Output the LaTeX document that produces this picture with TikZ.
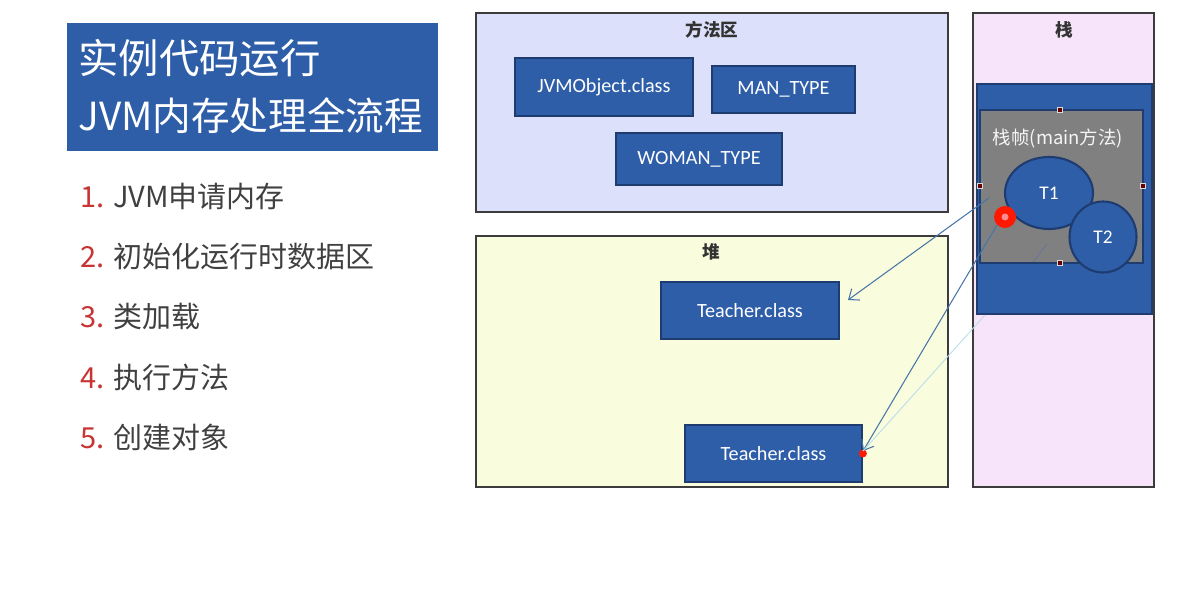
\documentclass[tikz,border=0pt]{standalone}
\usepackage{fontspec}
\setmainfont{Carlito}
\newfontfamily\cjk{Noto Sans CJK SC}
\usetikzlibrary{shapes.geometric,arrows.meta}

\definecolor{boxblue}{RGB}{47,94,168}
\definecolor{boxedge}{RGB}{30,60,112}
\definecolor{methodfill}{RGB}{221,224,250}
\definecolor{heapfill}{RGB}{250,252,222}
\definecolor{stackfill}{RGB}{248,228,250}
\definecolor{regionedge}{RGB}{60,60,60}
\definecolor{framegray}{RGB}{128,128,128}
\definecolor{numred}{RGB}{200,52,52}
\definecolor{listgray}{RGB}{64,64,64}
\definecolor{ptrblue}{RGB}{70,118,168}

\begin{document}
\begin{tikzpicture}[x=0.02cm,y=-0.02cm,
    every node/.append style={inner sep=0pt},
    region/.style={draw=regionedge,line width=0.8pt},
    regiontitle/.style={font=\cjk\bfseries\fontsize{10}{11}\selectfont,text=black!80},
    classbox/.style={draw=boxedge,line width=1pt,fill=boxblue,text=white,
        font=\fontsize{11.5}{13}\selectfont},
    objnode/.style={draw=boxedge,line width=1.2pt,fill=boxblue,ellipse,text=white,
        font=\fontsize{11}{12}\selectfont},
    handle/.style={draw=white!70!gray,fill=red!40!black,minimum size=3pt},
    item/.style={anchor=west,font=\cjk\fontsize{16.5}{18}\selectfont,text=listgray},
    ptr/.style={draw=ptrblue,line width=0.6pt,-{Straight Barb[length=5pt,width=8pt]}}]
    \useasboundingbox (0,0) rectangle (1196,607);
    % title
    \node [fill=boxblue,minimum width=7.42cm,minimum height=2.56cm] (title) at (252.5,87) {};
    \node [anchor=west,text=white,font=\cjk\fontsize{23}{26}\selectfont] (title1) at (78,58) {实例代码运行};
    \node [anchor=west,text=white,font=\cjk\fontsize{22}{26}\selectfont] (title2) at (78,116) {JVM内存处理全流程};
    % steps
    \node [item] (step1) at (80,197) {\textcolor{numred}{1.} JVM申请内存};
    \node [item] (step2) at (80,257) {\textcolor{numred}{2.} 初始化运行时数据区};
    \node [item] (step3) at (80,317) {\textcolor{numred}{3.} 类加载};
    \node [item] (step4) at (80,377) {\textcolor{numred}{4.} 执行方法};
    \node [item] (step5) at (80,437) {\textcolor{numred}{5.} 创建对象};
    % method area
    \draw [region,fill=methodfill] (476,13) rectangle (948,212);
    \node [regiontitle] (methodtitle) at (712,30) {方法区};
    \node [classbox,minimum width=3.56cm,minimum height=1.16cm] (jvmobj) at (604,87) {JVMObject.class};
    \node [classbox,minimum width=2.86cm,minimum height=0.94cm] (mantype) at (783.5,89.5) {MAN\_TYPE};
    \node [classbox,minimum width=3.32cm,minimum height=1.04cm] (womantype) at (699,159) {WOMAN\_TYPE};
    % heap
    \draw [region,fill=heapfill] (476,236) rectangle (948,487);
    \node [regiontitle] (heaptitle) at (711,252) {堆};
    \node [classbox,minimum width=3.56cm,minimum height=1.14cm] (teacher1) at (750,310.5) {Teacher.class};
    \node [classbox,minimum width=3.54cm,minimum height=1.14cm] (teacher2) at (773.5,453.5) {Teacher.class};
    % stack
    \draw [region,fill=stackfill] (973,13) rectangle (1154,487);
    \node [regiontitle] (stacktitle) at (1064,30) {栈};
    \draw [draw=boxedge,line width=1pt,fill=boxblue] (977,84) rectangle (1152,314);
    \draw [draw=boxedge,line width=1.2pt,fill=framegray] (980,110) rectangle (1143,263);
    \node [text=white!92!gray,font=\cjk\fontsize{10.5}{12}\selectfont] (frametitle) at (1058,139) {栈帧(main方法)};
    \node [handle] (h1) at (1060,110) {};
    \node [handle] (h2) at (980,186) {};
    \node [handle] (h3) at (1143,186) {};
    \node [handle] (h4) at (1060,263) {};
    \node [objnode,minimum width=1.76cm,minimum height=1.44cm] (t1) at (1049,193) {T1};
    \node [objnode,minimum width=1.34cm,minimum height=1.42cm] (t2) at (1103,237) {T2};
    \node [circle,fill=red!80!orange,minimum size=0.44cm] (dot) at (1005,217) {};
    \fill [red!45!white] (dot.center) circle (3.5);
    % references
    \coordinate (ref1) at (989,198);
    \coordinate (tip1) at (848,300);
    \coordinate (ref3) at (985,315);
    \coordinate (tip2) at (863,451);
    \fill [red!80!orange] (teacher2.east) circle (4);
    \draw [ptr] (ref1) -- (tip1);
    \draw [ptr] (dot.south west) -- (tip2);
    \draw [draw=black!25!cyan!30,line width=0.5pt] (ref3) -- (tip2);
    \draw [draw=boxedge!70,line width=0.4pt] (1047,244) -- (1033,262);
\end{tikzpicture}
\end{document}
